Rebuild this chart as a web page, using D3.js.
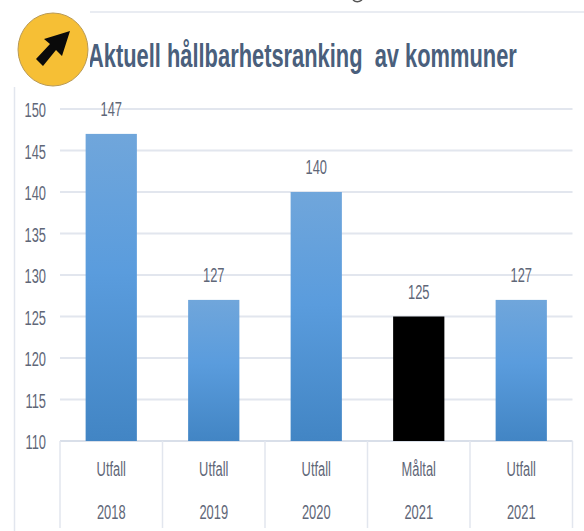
<!DOCTYPE html>
<html><head><meta charset="utf-8">
<script src="https://cdn.jsdelivr.net/npm/d3@7/dist/d3.min.js"></script>
<style>html,body{margin:0;padding:0;background:#fff}svg{display:block}text{font-family:"Liberation Sans",sans-serif}</style>
</head><body><div id="c"></div>
<script>
const categories = ["Utfall","Utfall","Utfall","Måltal","Utfall"];
const years = ["2018","2019","2020","2021","2021"];
const values = [147,127,140,125,127];
const targetFlags = [false,false,false,true,false];
const yTicks = [110,115,120,125,130,135,140,145,150];
const titleText = "Aktuell hållbarhetsranking\u00a0 av kommuner";

const W=584,H=531,L=60,R=572.5,T=109,B=441;
const svg=d3.select("#c").append("svg").attr("width",W).attr("height",H);
const defs=svg.append("defs");
const g=defs.append("linearGradient").attr("id","bar").attr("x1",0).attr("x2",0).attr("y1",0).attr("y2",1);
g.append("stop").attr("offset","0%").attr("stop-color","#70a6db");
g.append("stop").attr("offset","45%").attr("stop-color","#5a9cdd");
g.append("stop").attr("offset","100%").attr("stop-color","#4285c4");

const idx=d3.range(values.length);
const x=d3.scaleBand().domain(idx).range([L,R]).paddingInner(0.5).paddingOuter(0.25);
const y=d3.scaleLinear().domain([110,150]).range([B,T]);
const line="#e2e6ee", txt="#5f6778";
const SX=0.66, FS=19.5, DY=7;
const cx=i=>x(i)+x.bandwidth()/2;
const place=(px,py)=>`translate(${px},${py}) scale(${SX},1)`;

svg.append("line").attr("x1",90).attr("x2",W).attr("y1",12).attr("y2",12).attr("stroke",line).attr("stroke-width",1.5);
svg.append("line").attr("x1",14.5).attr("x2",14.5).attr("y1",87).attr("y2",H).attr("stroke",line).attr("stroke-width",1.5);
// descender of a cut-off word at the top edge
svg.append("path").attr("d","M353,0 Q357,3.5 362,0").attr("fill","none").attr("stroke","#555").attr("stroke-width",1.5);

svg.append("g").selectAll("line").data(yTicks).join("line")
  .attr("x1",L).attr("x2",R).attr("y1",d=>y(d)).attr("y2",d=>y(d))
  .attr("stroke",d=>d===110?"#d9dfe9":line).attr("stroke-width",2);

svg.append("g").selectAll("text").data(yTicks).join("text")
  .attr("transform",d=>place(46,y(d)+DY+1)).attr("text-anchor","end")
  .attr("font-size",FS).attr("fill",txt).text(d=>d);

svg.append("g").selectAll("rect").data(idx).join("rect")
  .attr("x",i=>x(i)).attr("width",x.bandwidth())
  .attr("y",i=>y(values[i])).attr("height",i=>B-y(values[i]))
  .attr("fill",i=>targetFlags[i]?"#000":"url(#bar)");

svg.append("g").selectAll("text").data(idx).join("text")
  .attr("transform",i=>place(cx(i),y(values[i])-25+DY)).attr("text-anchor","middle")
  .attr("font-size",FS).attr("fill",txt).text(i=>values[i]);

const step=x.step();
const edges=d3.range(values.length+1).map(i=>L+i*step);
svg.append("g").selectAll("line").data(edges).join("line")
  .attr("x1",d=>d).attr("x2",d=>d).attr("y1",B).attr("y2",528)
  .attr("stroke",line).attr("stroke-width",1.5);

svg.append("g").selectAll("text").data(idx).join("text")
  .attr("transform",i=>place(cx(i),469+DY)).attr("text-anchor","middle")
  .attr("font-size",FS).attr("fill",txt).text(i=>categories[i]);
svg.append("g").selectAll("text").data(idx).join("text")
  .attr("transform",i=>place(cx(i),512+DY)).attr("text-anchor","middle")
  .attr("font-size",FS).attr("fill",txt).text(i=>years[i]);

// title, squeezed to the reference's width
const title=svg.append("text").attr("font-size",33).attr("font-weight","bold")
  .attr("fill","#4a5f7c").text(titleText);
const tw=title.node().getComputedTextLength();
title.attr("transform",`translate(88,67) scale(${429/tw},1)`);

svg.append("rect").attr("x",14).attr("y",12).attr("width",76).attr("height",75).attr("fill","#fff");
svg.append("ellipse").attr("cx",53).attr("cy",49.5).attr("rx",35).attr("ry",36.5)
  .attr("fill","#f6bf35").attr("stroke","#b99a55").attr("stroke-width",1);
svg.append("path").attr("d","M70,31 L62,56 L56,50 L43,66 L36,59 L50,44 L44,39 Z").attr("fill","#0a0a0a");
</script></body></html>
